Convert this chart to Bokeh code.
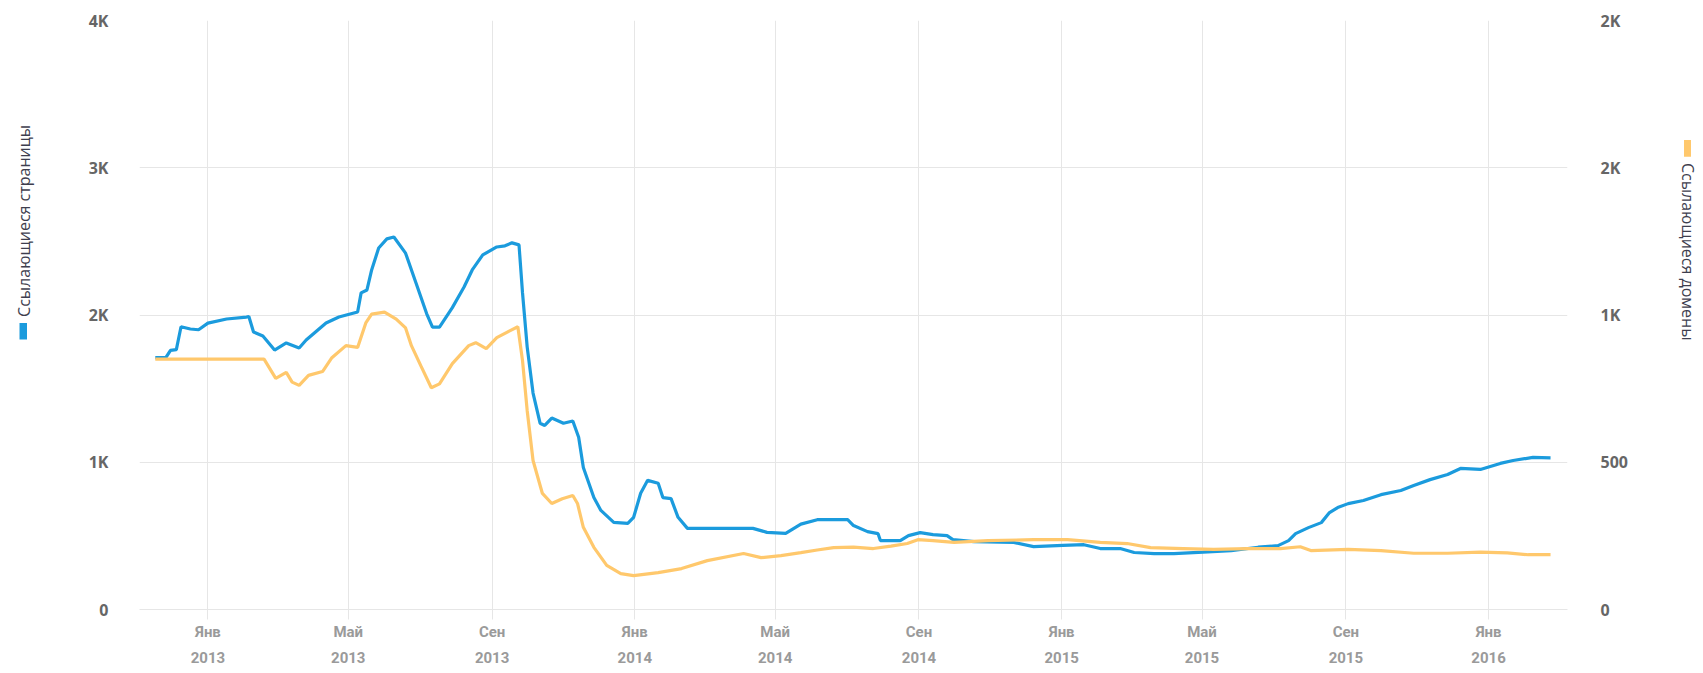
import math
import pandas as pd
from bokeh.plotting import figure
from bokeh.layouts import row
from bokeh.models import (Range1d, LinearAxis, DatetimeAxis, FixedTicker,
                          CustomJSTickFormatter, ColumnDataSource)
from bokeh.core.properties import value
from bokeh.embed import file_html
from bokeh.resources import INLINE

# ---------------- data ----------------
pages_dates = [
    "2012-11-17", "2012-11-26", "2012-11-30", "2012-12-05", "2012-12-09", "2012-12-17",
    "2012-12-24", "2013-01-01", "2013-01-17", "2013-02-03", "2013-02-05", "2013-02-09",
    "2013-02-17", "2013-02-27", "2013-03-09", "2013-03-20", "2013-03-26", "2013-04-12",
    "2013-04-23", "2013-05-09", "2013-05-12", "2013-05-17", "2013-05-21", "2013-05-27",
    "2013-06-03", "2013-06-09", "2013-06-19", "2013-06-28", "2013-07-07", "2013-07-12",
    "2013-07-18", "2013-07-29", "2013-08-08", "2013-08-15", "2013-08-24", "2013-09-05",
    "2013-09-12", "2013-09-18", "2013-09-24", "2013-09-27", "2013-10-01", "2013-10-06",
    "2013-10-12", "2013-10-16", "2013-10-22", "2013-11-01", "2013-11-09", "2013-11-14",
    "2013-11-18", "2013-11-27", "2013-12-03", "2013-12-14", "2013-12-26", "2013-12-31",
    "2014-01-06", "2014-01-12", "2014-01-21", "2014-01-25", "2014-02-01", "2014-02-07",
    "2014-02-15", "2014-03-04", "2014-03-26", "2014-04-12", "2014-04-24", "2014-05-10",
    "2014-05-23", "2014-06-06", "2014-07-02", "2014-07-07", "2014-07-19", "2014-07-28",
    "2014-07-30", "2014-08-16", "2014-08-23", "2014-09-02", "2014-09-13", "2014-09-25",
    "2014-09-30", "2014-10-18", "2014-11-21", "2014-12-08", "2015-01-02", "2015-01-20",
    "2015-02-03", "2015-02-20", "2015-03-04", "2015-03-21", "2015-04-07", "2015-05-02",
    "2015-05-26", "2015-06-18", "2015-07-05", "2015-07-14", "2015-07-20", "2015-07-31",
    "2015-08-11", "2015-08-18", "2015-08-25", "2015-09-03", "2015-09-16", "2015-10-01",
    "2015-10-18", "2015-10-29", "2015-11-12", "2015-11-27", "2015-12-08", "2015-12-25",
    "2016-01-11", "2016-01-22", "2016-02-08", "2016-02-23",
]
pages_values = [
    1710, 1710, 1760, 1765, 1920, 1905,
    1900, 1945, 1973, 1986, 1990, 1884,
    1857, 1762, 1810, 1776, 1830, 1946,
    1986, 2020, 2150, 2170, 2306, 2455,
    2517, 2530, 2420, 2216, 2010, 1918,
    1918, 2050, 2190, 2306, 2408, 2462,
    2470, 2490, 2476, 2150, 1782, 1470,
    1265, 1250, 1300, 1265, 1280, 1170,
    965, 760, 673, 592, 585, 626,
    789, 877, 857, 760, 753, 626,
    551, 551, 551, 551, 524, 517,
    580, 610, 610, 570, 529, 515,
    468, 468, 502, 522, 509, 502,
    475, 461, 455, 427, 435, 440,
    414, 414, 387, 380, 380, 389,
    400, 423, 434, 468, 515, 556,
    590, 658, 692, 719, 740, 780,
    808, 842, 882, 917, 958, 951,
    992, 1012, 1033, 1030,
]

domains_dates = [
    "2012-11-17", "2013-02-18", "2013-02-28", "2013-03-09", "2013-03-14", "2013-03-20",
    "2013-03-28", "2013-04-09", "2013-04-17", "2013-04-29", "2013-05-09", "2013-05-16",
    "2013-05-21", "2013-06-01", "2013-06-11", "2013-06-19", "2013-06-24", "2013-07-02",
    "2013-07-11", "2013-07-18", "2013-07-29", "2013-08-12", "2013-08-18", "2013-08-27",
    "2013-09-05", "2013-09-16", "2013-09-23", "2013-09-27", "2013-10-01", "2013-10-06",
    "2013-10-14", "2013-10-22", "2013-10-31", "2013-11-09", "2013-11-13", "2013-11-18",
    "2013-11-27", "2013-12-08", "2013-12-20", "2013-12-31", "2014-01-21", "2014-02-10",
    "2014-03-04", "2014-04-04", "2014-04-19", "2014-05-06", "2014-05-23", "2014-06-06",
    "2014-06-20", "2014-07-07", "2014-07-24", "2014-08-08", "2014-08-22", "2014-08-31",
    "2014-09-13", "2014-10-01", "2014-10-30", "2014-12-08", "2015-01-06", "2015-02-03",
    "2015-02-26", "2015-03-18", "2015-04-15", "2015-05-11", "2015-06-09", "2015-07-07",
    "2015-07-24", "2015-08-02", "2015-09-03", "2015-10-01", "2015-10-29", "2015-11-27",
    "2015-12-25", "2016-01-17", "2016-02-04", "2016-02-23",
]
domains_values = [
    850, 850, 785, 805, 772, 761,
    795, 808, 855, 896, 890, 973,
    1003, 1010, 986, 956, 896, 828,
    753, 766, 835, 896, 906, 886,
    923, 946, 960, 845, 675, 506,
    394, 360, 376, 387, 360, 279,
    211, 150, 122, 115, 125, 139,
    166, 190, 176, 183, 193, 202,
    210, 212, 207, 215, 224, 237,
    234, 228, 234, 237, 237, 228,
    224, 210, 207, 204, 207, 207,
    213, 200, 204, 200, 191, 191,
    195, 192, 186, 186,
]

x_tick_dates = ["2013-01-01", "2013-05-01", "2013-09-01", "2014-01-01", "2014-05-01",
                "2014-09-01", "2015-01-01", "2015-05-01", "2015-09-01", "2016-01-01"]
month_names = ["Янв", "Фев", "Мар", "Апр", "Май", "Июн",
               "Июл", "Авг", "Сен", "Окт", "Ноя", "Дек"]
left_ticks = [0, 1000, 2000, 3000, 4000]
left_tick_labels = ["0", "1K", "2K", "3K", "4K"]
right_ticks = [0, 500, 1000, 1500, 2000]
right_tick_labels = ["0", "500", "1K", "2K", "2K"]
left_title = ["Ссылающиеся страницы"]
right_title = ["Ссылающиеся домены"]

BLUE = "#1b9bdd"
ORANGE = "#ffc86c"
GRID = "#e6e6e6"
TITLE_COLOR = "#3e3e4e"
H = 670


def side_fig(w):
    f = figure(width=w, height=H, x_range=Range1d(0, w), y_range=Range1d(0, H),
               x_axis_location=None, y_axis_location=None,
               output_backend="svg", toolbar_location=None,
               min_border_left=0, min_border_right=0, min_border_top=0, min_border_bottom=0)
    f.outline_line_color = None
    f.xgrid.visible = False
    f.ygrid.visible = False
    f.border_fill_color = "white"
    return f


# ---------------- left strip: axis title + colour key ----------------
lf = side_fig(45)
lf.text(x=[23], y=[H - 228], text=left_title, angle=math.pi / 2,
        text_align="center", text_baseline="middle",
        text_font=value("Open Sans"), text_font_size="16px", text_color=TITLE_COLOR)
lf.quad(left=[19], right=[26.5], bottom=[H - 363], top=[H - 344],
        fill_color=BLUE, line_color=None)

# ---------------- right strip ----------------
rf = side_fig(45)
rf.text(x=[32], y=[H - 263], text=right_title, angle=-math.pi / 2,
        text_align="center", text_baseline="middle",
        text_font=value("Open Sans"), text_font_size="16px", text_color=TITLE_COLOR)
rf.quad(left=[28.5], right=[35.5], bottom=[H - 155], top=[H - 136],
        fill_color=ORANGE, line_color=None)

# ---------------- main chart ----------------
p = figure(width=1610, height=H, x_axis_type="datetime",
           x_range=Range1d(pd.Timestamp("2012-11-03 12:00"), pd.Timestamp("2016-03-08 12:00")),
           y_range=Range1d(0, 4000),
           output_backend="svg", toolbar_location=None,
           min_border_left=94, min_border_right=88, min_border_top=20, min_border_bottom=61)
p.outline_line_color = None
p.background_fill_color = "white"
p.border_fill_color = "white"
p.extra_y_ranges = {"domains": Range1d(0, 2000)}

tick_ms = [pd.Timestamp(d).value // 10**6 for d in x_tick_dates]

src_p = ColumnDataSource(dict(x=pd.to_datetime(pages_dates), y=pages_values))
src_d = ColumnDataSource(dict(x=pd.to_datetime(domains_dates), y=domains_values))
p.line("x", "y", source=src_p, line_color=BLUE, line_width=3.2)
p.line("x", "y", source=src_d, line_color=ORANGE, line_width=3.2, y_range_name="domains")

p.xgrid.ticker = FixedTicker(ticks=tick_ms)
p.ygrid.ticker = FixedTicker(ticks=left_ticks)
p.xgrid.grid_line_color = GRID
p.ygrid.grid_line_color = GRID

X_FONT = "Roboto"

xa = p.xaxis[0]
xa.ticker = FixedTicker(ticks=tick_ms)
xa.formatter = CustomJSTickFormatter(args=dict(names=month_names),
                                     code="return names[new Date(tick).getUTCMonth()];")
xa.axis_line_color = GRID
xa.major_tick_line_color = GRID
xa.major_tick_out = 10
xa.major_tick_in = 0
xa.minor_tick_line_color = None
xa.major_label_standoff = 3
xa.major_label_text_font = X_FONT
xa.major_label_text_font_style = "bold"
xa.major_label_text_font_size = "15px"
xa.major_label_text_color = "#9a9a9a"

year_axis = DatetimeAxis(ticker=FixedTicker(ticks=tick_ms),
                         formatter=CustomJSTickFormatter(code="return String(new Date(tick).getUTCFullYear());"))
year_axis.axis_line_color = None
year_axis.major_tick_line_color = None
year_axis.minor_tick_line_color = None
year_axis.major_tick_out = 0
year_axis.major_tick_in = 0
year_axis.major_label_standoff = 8
year_axis.major_label_text_font = X_FONT
year_axis.major_label_text_font_style = "bold"
year_axis.major_label_text_font_size = "15px"
year_axis.major_label_text_color = "#9a9a9a"
p.add_layout(year_axis, "below")

la = p.yaxis[0]
la.ticker = FixedTicker(ticks=left_ticks)
la.formatter = CustomJSTickFormatter(args=dict(t=left_ticks, l=left_tick_labels),
                                     code="const i = t.indexOf(tick); return i >= 0 ? l[i] : '';")

ra = LinearAxis(y_range_name="domains", ticker=FixedTicker(ticks=right_ticks),
                formatter=CustomJSTickFormatter(args=dict(t=right_ticks, l=right_tick_labels),
                                                code="const i = t.indexOf(tick); return i >= 0 ? l[i] : '';"))
p.add_layout(ra, "right")

for ax, st in [(la, 31), (ra, 33)]:
    ax.axis_line_color = None
    ax.major_tick_line_color = None
    ax.minor_tick_line_color = None
    ax.major_tick_out = 0
    ax.major_tick_in = 0
    ax.major_label_standoff = st
    ax.major_label_text_font = "Open Sans"
    ax.major_label_text_font_style = "bold"
    ax.major_label_text_font_size = "16px"
    ax.major_label_text_color = "#666666"

layout = row(lf, p, rf, spacing=0)
open("out.html", "w").write(file_html(layout, INLINE))
